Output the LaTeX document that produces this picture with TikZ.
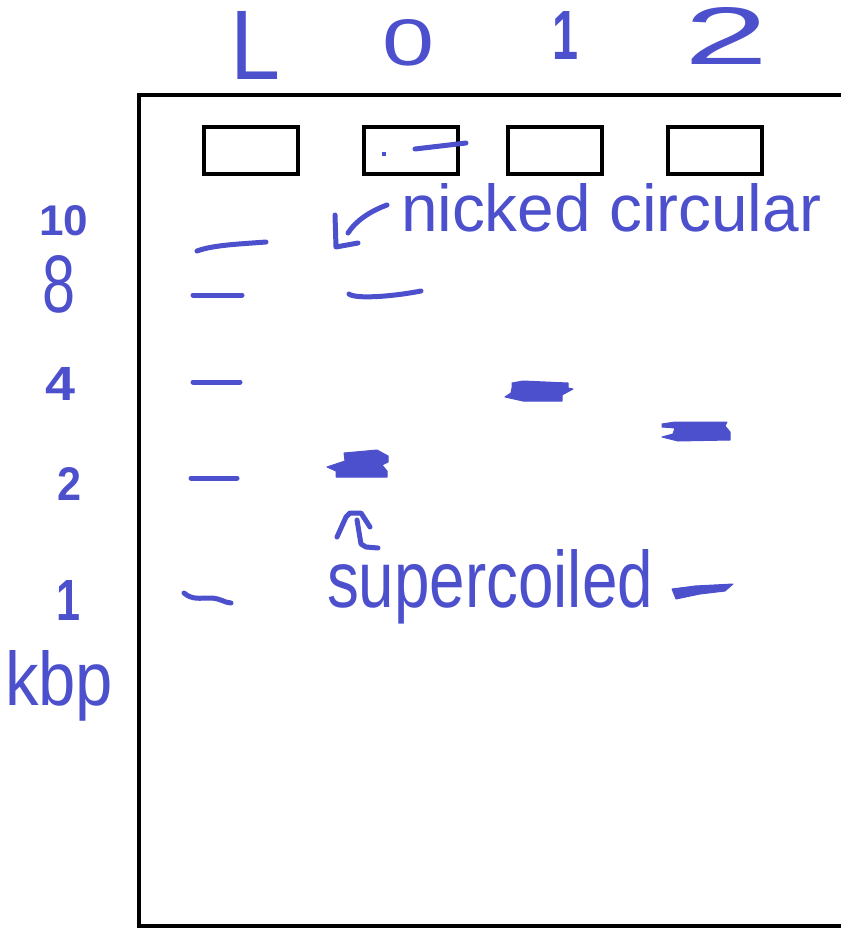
\documentclass[tikz,border=0pt]{standalone}
\usepackage{fontspec}
\setmainfont{Liberation Sans}
\usepackage{graphicx}
\definecolor{pen}{RGB}{76,80,204}
\tikzset{
  well/.style={draw=black,line width=4pt,minimum width=94pt,minimum height=47pt,inner sep=0pt},
  ink/.style={draw=pen,line width=5pt,line cap=round,line join=round},
  smear/.style={fill=pen,draw=pen,line width=1pt,line join=round},
  hand/.style={text=pen,inner sep=0pt,outer sep=0pt,anchor=base west}
}
\begin{document}
\begin{tikzpicture}[x=1pt,y=-1pt]
\useasboundingbox (0,0) rectangle (840,928);
% gel outline
\draw[line width=4pt] (842,95) -- (139,95) -- (139,926) -- (842,926);
% wells
\node[well] (wL) at (251,150.5) {};
\node[well] (w0) at (411,150.5) {};
\node[well] (w1) at (555,150.5) {};
\node[well] (w2) at (715,150.5) {};
% lane labels
\node[hand] (lL) at (230,80) {\resizebox{50pt}{68pt}{L}};
\node[hand] (l0) at (382,66) {\resizebox{52pt}{46pt}{0}};
\node[hand] (l1) at (552,60) {\resizebox{26pt}{48pt}{\bfseries 1}};
\node[hand] (l2) at (684,65) {\resizebox{84pt}{57pt}{2}};
% size labels
\node[hand] (s10) at (39,235) {\resizebox{49pt}{30pt}{\bfseries 10}};
\node[hand] (s8) at (42,312) {\resizebox{33pt}{57pt}{8}};
\node[hand] (s4) at (45,400) {\resizebox{30pt}{33pt}{\bfseries 4}};
\node[hand] (s2) at (57,500) {\resizebox{24pt}{33pt}{\bfseries 2}};
\node[hand] (s1) at (56,620) {\resizebox{24pt}{40pt}{\bfseries 1}};
\node[hand] (kbp) at (5,705) {\resizebox{108pt}{55pt}{kbp}};
% ladder bands
\draw[ink] (197,251) .. controls (213,245) and (240,244) .. (266,242);
\draw[ink] (193,295) -- (242,295);
\draw[ink] (193,382) -- (240,382);
\draw[ink] (191,478) -- (237,478);
\draw[ink] (184,593) .. controls (192,600) and (200,598) .. (210,598) .. controls (220,598) and (225,603) .. (231,603);
% lane 0
\draw[ink] (415,149) -- (466,143);
\fill[pen] (382,152) rectangle (386,156);
\draw[ink] (349,294) .. controls (355,299) and (390,297) .. (421,291);
\draw[smear] (327,467) -- (345,461) -- (344,453) -- (377,450) -- (388,456) -- (388,462) -- (382,465) -- (387,471) -- (387,477) -- (336,477) -- (336,471) -- cycle;
% lane 1
\draw[smear] (512,383) -- (523,381) -- (568,383) -- (568,388) -- (573,389) -- (562,395) -- (562,401) -- (523,401) -- (505,397) -- (511,393) -- (512,388) -- cycle;
% lane 2
\draw[smear] (662,424) -- (675,422) -- (727,422) -- (725,426) -- (730,432) -- (730,440) -- (678,441) -- (662,437) -- (673,434) -- (675,428) -- (662,427) -- cycle;
\draw[smear] (672,589) -- (695,586) -- (733,584) -- (725,591) -- (700,594) -- (676,599) -- cycle;
% nicked circular label and arrow
\node[hand] (nick) at (401,231) {\resizebox{420pt}{48pt}{nicked circular}};
\coordinate (nA) at (387,205);
\coordinate (nB) at (336,247);
\draw[ink] (nA) .. controls (368,212) and (355,222) .. (348,233);
\draw[ink] (335,215) -- (nB) -- (358,243);
% supercoiled label and arrow
\node[hand] (sup) at (327,607) {\resizebox{326pt}{58pt}{supercoiled}};
\coordinate (sA) at (350,513);
\draw[ink] (337,537) -- (346,517) -- (sA) -- (361,513) -- (370,527);
\draw[ink] (357,520) -- (361,544) -- (366,547) -- (378,548);
\end{tikzpicture}
\end{document}
